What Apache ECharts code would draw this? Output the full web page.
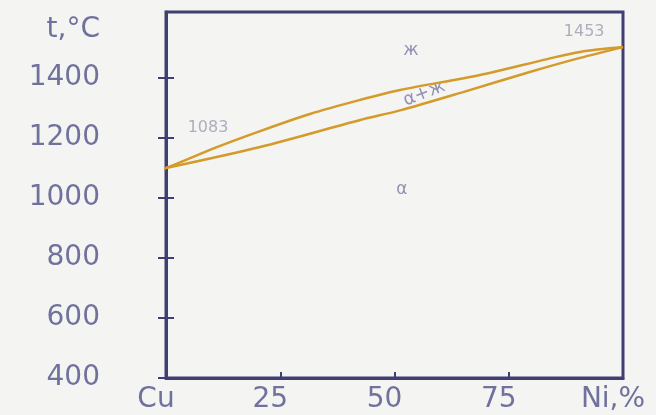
<!DOCTYPE html>
<html>
<head>
<meta charset="utf-8">
<script src="https://cdn.jsdelivr.net/npm/echarts@6/dist/echarts.min.js"></script>
<style>
  html, body { margin: 0; padding: 0; background: #f4f4f2; }
  #chart_1 { width: 656px; height: 415px; }
</style>
</head>
<body>
<div id="chart_1"></div>
<script>
// Cu-Ni phase diagram
var liquidusNi = [0, 10.7, 20.6, 31.5, 42.5, 51.2, 68.7, 83.4, 90.6, 100];
var liquidus = [1100, 1167, 1223, 1280, 1327, 1360, 1410, 1463, 1487, 1503];
var solidusNi = [0, 20.6, 42.5, 51.2, 65, 79.6, 90.6, 100];
var solidus = [1100, 1170, 1260, 1292, 1353, 1420, 1467, 1503];
var xTickValues = [0, 25, 50, 75, 100];
var xTickLabels = ['Cu', '25', '50', '75', 'Ni,%'];
var yTickValues = [400, 600, 800, 1000, 1200, 1400];

// text in the diagram
var noteText = ['1083', '1453', 'ж', 'α+ж', 'α'];
var noteNi = [9.2, 91.5, 53.6, 56.5, 51.6];
var noteT = [1233, 1553, 1490, 1348, 1027];

var chart_1 = echarts.init(document.getElementById('chart_1'));

var liqData = [[-3.5, 1087]];
for (var i = 0; i < liquidusNi.length; i++) {
    liqData.push([liquidusNi[i], liquidus[i]]);
}
var solData = [];
for (var i = 0; i < solidusNi.length; i++) {
    solData.push([solidusNi[i], solidus[i]]);
}
var noteData = [];
for (var i = 0; i < noteText.length; i++) {
    var item = { name: noteText[i], value: [noteNi[i], noteT[i]] };
    if (noteText[i] == '1083' || noteText[i] == '1453') {
        item.label = { fontSize: 16, color: '#9b9bb2' };
    }
    if (noteText[i] == 'α+ж') {
        item.label = { rotate: 21, fontSize: 18 };
    }
    noteData.push(item);
}

var axisColor = '#3f3f72';
var labelColor = '#70719c';
var labelFont = { fontFamily: 'DejaVu Sans', fontSize: 28, color: labelColor };

var option = {
    backgroundColor: '#f4f4f2',
    animation: false,
    grid: {
        left: 166, right: 33, top: 12, bottom: 37,
        outerBoundsMode: 'none', containLabel: false,
        show: true, borderColor: axisColor, borderWidth: 3,
        backgroundColor: 'transparent'
    },
    xAxis: {
        type: 'value', min: 0, max: 100,
        axisLine: { show: true, lineStyle: { color: axisColor, width: 3 } },
        axisTick: { show: true, inside: true, length: 6, customValues: xTickValues, lineStyle: { color: axisColor, width: 2 } },
        splitLine: { show: false },
        axisLabel: Object.assign({
            margin: 8,
            padding: [0, 20, 0, 0],
            customValues: xTickValues,
            formatter: function (v) { return xTickLabels[xTickValues.indexOf(v)]; }
        }, labelFont)
    },
    yAxis: [{
        type: 'value', min: 400, max: 1620,
        name: 't,°C', nameLocation: 'end', nameGap: -18,
        nameTextStyle: Object.assign({ align: 'right', verticalAlign: 'middle', padding: [0, 66, 0, 0] }, labelFont),
        axisLine: { show: true, lineStyle: { color: axisColor, width: 3 } },
        axisTick: { show: false },
        splitLine: { show: false },
        axisLabel: Object.assign({
            margin: 66, customValues: yTickValues,
            formatter: function (v) { return String(v); }
        }, labelFont)
    }, {
        // ticks crossing the axis line
        type: 'value', min: 400, max: 1620, position: 'left', offset: -8,
        axisLine: { show: false },
        axisTick: { show: true, length: 16, customValues: yTickValues, lineStyle: { color: axisColor, width: 2 } },
        axisLabel: { show: false },
        splitLine: { show: false }
    }],
    series: [{
        name: 'liquidus', type: 'line', smooth: 0.3, clip: false, showSymbol: false,
        data: liqData,
        lineStyle: { color: '#d49a2a', width: 2.5 }
    }, {
        name: 'solidus', type: 'line', smooth: 0.3, showSymbol: false,
        data: solData,
        lineStyle: { color: '#d49a2a', width: 2.5 }
    }, {
        name: 'notes', type: 'scatter', symbolSize: 0,
        data: noteData,
        label: {
            show: true, position: 'inside',
            formatter: '{b}',
            fontFamily: 'DejaVu Sans', fontSize: 17, color: '#7878a4'
        }
    }]
};
chart_1.setOption(option);
</script>
</body>
</html>
